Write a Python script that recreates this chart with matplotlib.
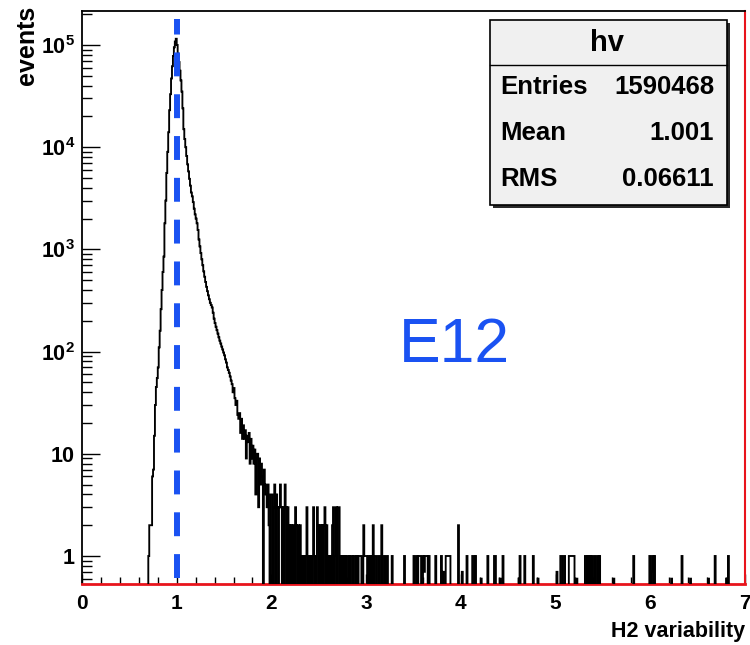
import numpy as np
import matplotlib
matplotlib.use("Agg")
import matplotlib.pyplot as plt
from matplotlib.patches import Rectangle
from matplotlib.lines import Line2D
from matplotlib.ticker import FixedLocator, FixedFormatter, LogLocator, NullFormatter, MultipleLocator

# ---------------- data ----------------
bin_width = 0.01
x_min, x_max = 0.0, 7.0
core_start = 0.70
core_counts = [
    1, 2, 2, 2, 6, 7, 15, 30, 45, 55,                                   # 0.70
    70, 110, 160, 260, 400, 600, 850, 1800, 3000, 5600,                 # 0.80
    9000, 14000, 23000, 33000, 47000, 62000, 78000, 95000, 108000, 115000,  # 0.90
    100000, 82000, 68000, 56000, 45000, 35000, 24000, 15000, 12000, 10000,  # 1.00
    8200, 6800, 5800, 4900, 4200, 3600, 3300, 2900, 2500, 2200,         # 1.10
    2000, 1800, 1550, 1250, 1070, 920, 800, 700, 610, 540,              # 1.20
    480, 430, 390, 355, 325, 300, 285, 270, 240, 210,                   # 1.30
    190, 175, 162, 150, 138, 128, 120, 112, 105, 98,                    # 1.40
    92, 84, 78, 70, 66, 62, 57, 52, 48, 40,                             # 1.50
    44, 35, 30, 33, 24, 22, 25, 16, 22, 14,                             # 1.60
    19, 14, 17, 9, 15, 13, 16, 8, 14, 9,                                # 1.70
    12, 8, 11, 4, 9, 10, 3, 9, 5, 8,                                    # 1.80
    6, 0, 7, 5, 4, 3, 5, 2, 0, 4,                                       # 1.90
    4, 0, 3, 5, 0, 4, 3, 0, 3, 5,                                       # 2.00
    3, 0, 3, 0, 5, 3, 0, 3, 0, 2,                                       # 2.10
    0, 2, 0, 2, 0, 3, 2, 0, 2, 0,                                       # 2.20
    2, 0, 1, 0, 1, 0, 1, 3, 0, 1,                                       # 2.30
    0, 1, 0, 1, 3, 0, 1, 0, 3, 2,                                       # 2.40
    0, 2, 0, 2, 0, 2, 3, 0, 2, 0,                                       # 2.50
    1, 0, 1, 0, 2, 3, 0, 1, 3, 0,                                       # 2.60
    3, 3, 0, 1, 0, 1, 0, 1, 0, 1,                                       # 2.70
]
tail_edges = [2.80, 2.82, 2.84, 2.85, 2.87, 2.88, 2.90, 2.92, 2.93, 2.94, 2.97, 2.98,
              2.99, 3.00, 3.02, 3.03, 3.05, 3.07, 3.09, 3.10, 3.13, 3.16, 3.19, 3.22,
              3.27, 3.40, 3.50, 3.53, 3.55, 3.56, 3.57, 3.60, 3.61, 3.62, 3.63,
              3.64, 3.66, 3.73, 3.79, 3.81, 3.84, 3.85, 3.86, 3.87, 3.88, 3.97,
              4.01, 4.06, 4.12, 4.13, 4.15, 4.21, 4.28, 4.35, 4.36, 4.41, 4.44,
              4.61, 4.62, 4.67, 4.76, 4.81, 5.01, 5.05, 5.06, 5.09, 5.14, 5.15,
              5.16, 5.17, 5.18, 5.19, 5.22, 5.31, 5.32, 5.34, 5.36, 5.38, 5.41,
              5.44, 5.46, 5.61, 5.82, 5.99, 6.01, 6.02, 6.04, 6.22, 6.33, 6.42,
              6.61, 6.68, 6.80, 6.82]
tail_counts = [1, 1, 1, 1, 1, 1, 1, 1, 1, 1, 2, 1,
               1, 1, 1, 1, 1, 2, 1, 1, 1, 2, 1, 1,
               1, 1, 1, 1, 1, 1, 1, 1, 0.7, 1, 1,
               1, 1, 1, 1, 0.7, 1, 1, 1, 1, 1, 2,
               0.7, 1, 1, 1, 1, 0.6, 1, 1, 1, 0.6, 1,
               0.6, 1, 1, 1, 0.6, 0.7, 1, 1, 1, 1, 1,
               1, 1, 1, 1, 0.6, 1, 1, 1, 1, 1, 1,
               1, 1, 0.6, 1, 1, 0.7, 1, 1, 0.6, 1, 0.6,
               0.6, 1, 0.6, 1]

stats_title = "hv"
stats_labels = ["Entries", "Mean", "RMS"]
stats_values = ["1590468", "1.001", "0.06611"]
x_ticks = [0, 1, 2, 3, 4, 5, 6, 7]
y_ticks = [1, 10, 100, 1000, 10000, 100000]
y_tick_labels = ["1", "10", r"$\mathbf{10^{2}}$", r"$\mathbf{10^{3}}$",
                 r"$\mathbf{10^{4}}$", r"$\mathbf{10^{5}}$"]
marker_x = 1.0
annotation = "E12"
x_label = "H2 variability"
y_label = "events"

# ---------------- build histogram ----------------
nb = int(round((x_max - x_min) / bin_width))
edges = np.linspace(x_min, x_max, nb + 1)
counts = np.zeros(nb)
i0 = int(round((core_start - x_min) / bin_width))
counts[i0:i0 + len(core_counts)] = core_counts
for e, c in zip(tail_edges, tail_counts):
    counts[int(round((e - x_min) / bin_width))] = c
draw_counts = np.where(counts > 0, counts, 1e-3)

# ---------------- style ----------------
plt.rcParams["font.family"] = ["Liberation Sans", "DejaVu Sans"]
plt.rcParams["mathtext.fontset"] = "custom"
plt.rcParams["mathtext.rm"] = "Liberation Sans"
plt.rcParams["mathtext.bf"] = "Liberation Sans:bold"

W, H = 750, 645
fig = plt.figure(figsize=(W / 100, H / 100), dpi=100)
fig.patch.set_facecolor("white")

def fx(px):
    return px / W

def fy(py):
    return 1 - py / H

ax_l, ax_r, ax_t, ax_b = 82, 745, 11, 584
ax = fig.add_axes([fx(ax_l), fy(ax_b), (ax_r - ax_l) / W, (ax_b - ax_t) / H])
ax.set_yscale("log")
ax.set_xlim(x_min, x_max)
ax.set_ylim(0.532, 2.15e5)

ax.stairs(draw_counts, edges, baseline=1e-3, color="black", lw=1.35, zorder=3)

# blue dashed marker
ax.axvline(marker_x, ymin=0.0105, ymax=0.986, color="#1a52f2", lw=4.3,
           dashes=(4.0, 3.0), zorder=4)

# spines
for s in ["top", "left"]:
    ax.spines[s].set_color("black")
    ax.spines[s].set_linewidth(1.3)
ax.spines["right"].set_color("#e8141c")
ax.spines["right"].set_linewidth(1.5)
ax.spines["bottom"].set_color("#e8141c")
ax.spines["bottom"].set_linewidth(2.0)

# ticks
ax.xaxis.set_major_locator(FixedLocator(x_ticks))
ax.xaxis.set_minor_locator(MultipleLocator(0.2))
ax.yaxis.set_major_locator(FixedLocator(y_ticks))
ax.yaxis.set_major_formatter(FixedFormatter(y_tick_labels))
ax.yaxis.set_minor_locator(LogLocator(base=10, subs=range(2, 10), numticks=20))
ax.yaxis.set_minor_formatter(NullFormatter())
ax.tick_params(axis="both", which="both", direction="in", top=False, right=False,
               colors="black", width=1.0)
ax.tick_params(axis="y", which="major", length=13, pad=5, labelsize=15.5)
ax.tick_params(axis="y", which="minor", length=7)
ax.tick_params(axis="x", which="major", length=7, pad=7, labelsize=15)
ax.tick_params(axis="x", which="minor", length=5)
for lab in ax.get_xticklabels() + ax.get_yticklabels():
    lab.set_fontweight("bold")

# axis titles
fig.text(fx(27), fy(6), y_label, rotation=90, ha="center", va="top",
         fontsize=18, fontweight="bold")
fig.text(fx(745), fy(637), x_label, ha="right", va="baseline",
         fontsize=15.5, fontweight="bold")

# annotation
fig.text(fx(399), fy(362), annotation, ha="left", va="baseline",
         fontsize=45, color="#1a52f2")

# stats box
bx0, bx1, by0, by1 = 490, 727, 20, 205
fig.add_artist(Rectangle((fx(bx0 + 3), fy(by1 + 3)), (bx1 - bx0) / W, (by1 - by0) / H,
                         transform=fig.transFigure, facecolor="#2a2a2a",
                         edgecolor="none", zorder=5))
fig.add_artist(Rectangle((fx(bx0), fy(by1)), (bx1 - bx0) / W, (by1 - by0) / H,
                         transform=fig.transFigure, facecolor="#f0f0f0",
                         edgecolor="black", lw=1.2, zorder=6))
fig.add_artist(Line2D([fx(bx0), fx(bx1)], [fy(65), fy(65)], transform=fig.transFigure,
                      color="black", lw=1.0, zorder=7))
fig.text(fx(607), fy(43), stats_title, ha="center", va="center", fontsize=21,
         fontweight="bold", zorder=8)
row_y = [87, 133, 179]
for lab, val, yy in zip(stats_labels, stats_values, row_y):
    fig.text(fx(500), fy(yy), lab, ha="left", va="center", fontsize=18.5,
             fontweight="bold", zorder=8)
    fig.text(fx(714), fy(yy), val, ha="right", va="center", fontsize=18.5,
             fontweight="bold", zorder=8)

fig.savefig("out.png", dpi=100, facecolor="white")
